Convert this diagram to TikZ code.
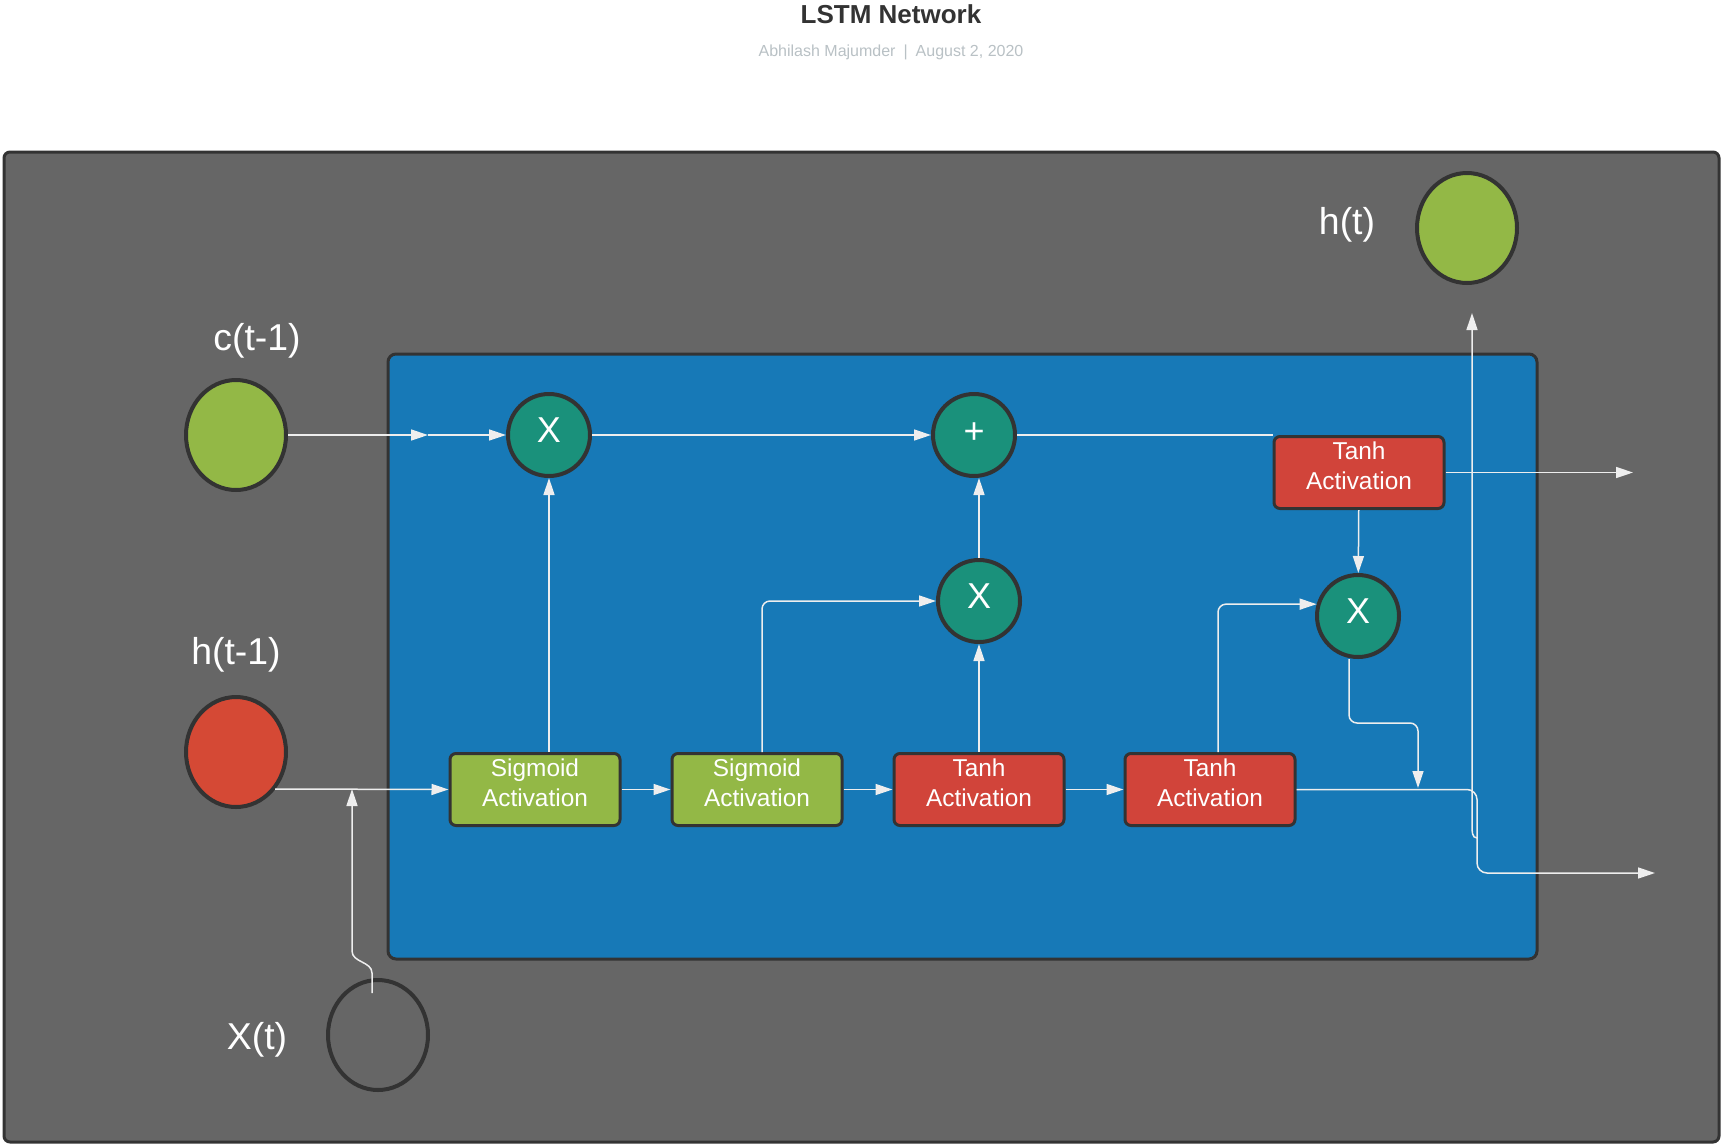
\documentclass[tikz,border=0pt]{standalone}
\usepackage{fontspec}
\setmainfont{Liberation Sans}
\usetikzlibrary{arrows.meta,positioning,shapes.geometric,calc}
\definecolor{panelgray}{HTML}{666666}
\definecolor{edgegray}{HTML}{333333}
\definecolor{cellblue}{HTML}{1779B7}
\definecolor{gatecolor}{HTML}{1A917B}
\definecolor{siggreen}{HTML}{93B846}
\definecolor{tanhred}{HTML}{D1443A}
\definecolor{wire}{HTML}{EEEEEE}
\definecolor{subgray}{HTML}{B9C1C5}

\begin{document}
\begin{tikzpicture}[x=0.5pt, y=-0.5pt,
  >={Triangle[length=8.5pt,width=5.5pt]},
  state/.style={draw=edgegray,line width=2pt,ellipse,minimum width=50pt,minimum height=55pt,inner sep=0pt},
  gate/.style={draw=edgegray,line width=2pt,circle,fill=gatecolor,minimum size=41pt,inner sep=0pt,text depth=5pt,text=white,font=\fontsize{18}{20}\selectfont},
  act/.style={draw=edgegray,line width=1.5pt,rounded corners=3pt,minimum width=85pt,minimum height=36pt,inner sep=0pt,text depth=7pt,align=center,text=white,font=\fontsize{12.2}{15}\selectfont},
  sigbox/.style={act,fill=siggreen},
  tanhbox/.style={act,fill=tanhred},
  tag/.style={text=white,inner sep=0pt,font=\fontsize{18.7}{22}\selectfont},
  link/.style={draw=wire,line width=0.75pt}
]
\useasboundingbox (0,0) rectangle (1724,1146);
\fill[white] (0,0) rectangle (1724,1146);

% panels
\draw[fill=panelgray,draw=edgegray,line width=1.5pt,rounded corners=3pt] (4,152) rectangle (1719,1142);
\draw[fill=cellblue,draw=edgegray,line width=1.5pt,rounded corners=4pt] (388,354) rectangle (1537,959);

\node[font=\bfseries\fontsize{13}{15}\selectfont,text=edgegray] (title) at (891,14) {LSTM Network};
\node[font=\fontsize{8}{10}\selectfont,text=subgray] (byline) at (891,52) {Abhilash Majumder\enspace|\enspace August 2, 2020};

% states
\node[state,fill=siggreen] (cprev) at (236,435) {};
\node[state,fill=tanhred!92!orange] (hprev) at (236,752) {};
\node[state] (xt) at (378,1035) {};
\node[state,fill=siggreen] (ht) at (1467,228) {};
\node[tag] (cprevtag) at (257,341) {c(t-1)};
\node[tag] (hprevtag) at (236,655) {h(t-1)};
\node[tag] (xttag) at (257,1040) {X(t)};
\node[tag] (httag) at (1347,225) {h(t)};

% gates
\node[gate] (x1) at (549,435) {X};
\node[gate,text depth=2pt] (plus) at (974,435) {+};
\node[gate] (x2) at (979,601) {X};
\node[gate] (x3) at (1358,616) {X};

% activations
\node[sigbox] (sig1) at (535,789.5) {Sigmoid\\Activation};
\node[sigbox,right=24.5pt of sig1] (sig2) {Sigmoid\\Activation};
\node[tanhbox,right=24.5pt of sig2] (tanh1) {Tanh\\Activation};
\node[tanhbox,right=29pt of tanh1] (tanh2) {Tanh\\Activation};
\node[tanhbox] (tanh3) at (1359,472.5) {Tanh\\Activation};

\coordinate (cmid) at (428,435);
\coordinate (hjoin) at (352,789);
\coordinate (xtop) at (372,993);
\coordinate (cout) at (1633,473);
\coordinate (hout) at (1655,873);
\coordinate (hbend) at (1477,788);
\coordinate (merge) at (1418,788);
\coordinate (tap) at (1477,838);
\coordinate (hup) at (1472,313);

% cell state line
\draw[link,->] (cprev.east) -- (cmid);
\draw[link,->] (cmid) -- (x1.west);
\draw[link,->] (x1) -- (plus);
\draw[link] (plus.east) -- (plus.east -| tanh3.west);
\draw[link,->] (tanh3.east) -- (tanh3.east -| cout);
\draw[link,->] (tanh3) -- (x3);

% inputs
\draw[link,->] (hprev.-44 |- hjoin) -- (sig1.west);
\draw[link,->] (xtop) -- ++(0,-20) to[out=90,in=-90] ++(-20,-22) -- (hjoin);
\draw[link,->] (sig1) -- (sig2);
\draw[link,->] (sig2) -- (tanh1);
\draw[link,->] (tanh1) -- (tanh2);

% gate wiring
\draw[link,->] (x1.south |- sig1.north) -- (x1.south);
\draw[link,->,rounded corners=4pt] ([xshift=2.5pt]sig2.north) |- (x2.west);
\draw[link,->] (tanh1) -- (x2);
\draw[link,->] (x2.north) -- (x2.north |- plus.south);
\draw[link,->,rounded corners=4pt] ([xshift=4pt]tanh2.north) |- (x3.164);
\draw[link,->,rounded corners=4pt] ([xshift=-4.5pt]x3.south) -- ++(0,64) -| (merge);

% outputs
\draw[link,->,rounded corners=5pt] (tanh2.east) -| (hbend |- hout) -- (hout);
\draw[link,->] (tap) to[out=180,in=-90] ++(-5,-12) -- (hup);
\end{tikzpicture}
\end{document}
